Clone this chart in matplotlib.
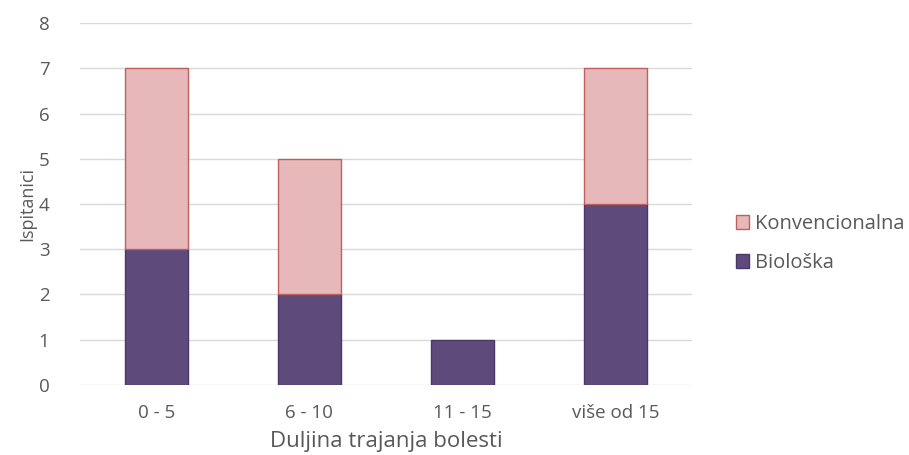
import matplotlib.pyplot as plt
import numpy as np

categories = ['0 - 5', '6 - 10', '11 - 15', 'više od 15']
bioloska = [3, 2, 1, 4]
konvencionalna = [4, 3, 0, 3]

plt.rcParams['font.family'] = ['Open Sans', 'DejaVu Sans']
grey = '#595959'

fig = plt.figure(figsize=(9.09, 4.55), dpi=100)
ax = fig.add_axes([0.088, 0.154, 0.673, 0.795])

x = np.arange(len(categories))
w = 0.41
ax.bar(x, bioloska, w, color='#5f4a7c', edgecolor='#4a3766', linewidth=1, label='Biološka', zorder=3)
# skip empty stacks so no stray edge line is drawn
konv = np.array(konvencionalna, dtype=float)
konv_lw = [1 if v > 0 else 0 for v in konv]
ax.bar(x, konv, w, bottom=bioloska, color='#e6b8b9', edgecolor='#c0605e',
       linewidth=konv_lw, label='Konvencionalna', zorder=3)

ax.set_xlim(-0.5, 3.5)
ax.set_ylim(0, 8)
ax.set_yticks(range(0, 9))
ax.set_xticks(x)
ax.set_xticklabels(categories)
ax.grid(axis='y', color='#d9d9d9', linewidth=1, zorder=0)
for s in ax.spines.values():
    s.set_visible(False)
ax.tick_params(length=0, colors=grey, labelsize=13.5, pad=14)
ax.tick_params(axis='y', pad=22)
ax.set_xlabel('Duljina trajanja bolesti', color=grey, fontsize=16, labelpad=6)
ax.set_ylabel('Ispitanici', color=grey, fontsize=13, labelpad=2)

h, l = ax.get_legend_handles_labels()
leg = fig.legend(h[::-1], l[::-1], loc='center left', bbox_to_anchor=(0.79, 0.465),
                 frameon=False, fontsize=14.5, handlelength=0.65, handleheight=0.65,
                 handletextpad=0.3, labelspacing=0.95)
for t in leg.get_texts():
    t.set_color(grey)

plt.savefig('out.png', dpi=100)
